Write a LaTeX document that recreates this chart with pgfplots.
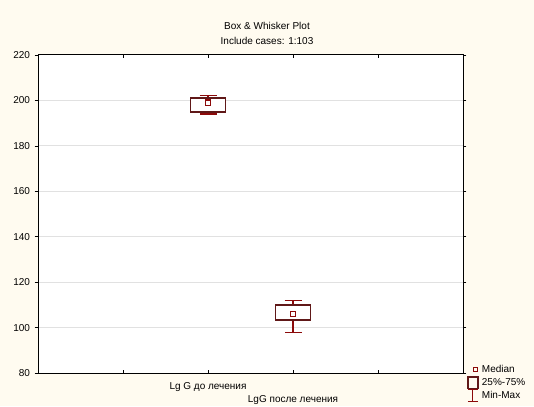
\documentclass[border=0pt]{standalone}
\usepackage{pgfplots}
\pgfplotsset{compat=1.18}
\usepackage{fontspec}
\setmainfont{Liberation Sans}
\definecolor{bg}{RGB}{255,251,240}
\definecolor{boxc}{RGB}{96,24,24}
\definecolor{whc}{RGB}{140,10,10}
\definecolor{gridc}{RGB}{225,225,225}
\newcommand{\fs}{\fontsize{7.5}{9}\selectfont}
\begin{document}
\begin{tikzpicture}
\fill[bg] (0pt,0pt) rectangle (400.5pt,304.5pt);
\path[use as bounding box] (0pt,0pt) rectangle (400.5pt,304.5pt);
\node[font=\fs, inner sep=0pt] at (200.25pt,285pt) {Box \& Whisker Plot};
\node[font=\fs, inner sep=0pt] at (200.25pt,273.75pt) {Include cases: 1:103};
\begin{axis}[
  at={(28.5pt,24.75pt)}, anchor=south west,
  scale only axis, width=318.75pt, height=238.5pt,
  xmin=-1, xmax=4, ymin=80, ymax=220,
  ytick={80,100,...,220},
  xtick={0,1,2,3},
  xticklabels={{},{Lg G до лечения},{\raisebox{-9.9pt}[\height][\depth]{LgG после лечения}},{}},
  axis background/.style={fill=white},
  ymajorgrids, grid style={gridc, line width=0.75pt},
  axis line style={black, line width=0.75pt},
  tick style={black, line width=0.5pt},
  xtick align=inside, ytick align=outside,
  major tick length=2.5pt,
  ticklabel style={font=\fs},
  xticklabel style={yshift=-3.75pt},
  /pgf/number format/assume math mode=true,
  legend style={at={(1.0094,0.0314)}, anchor=north west, draw=none, fill=none, font=\fs, inner sep=0pt, row sep=0pt, column sep=0pt, nodes={inner ysep=0pt, inner xsep=2.5pt}},
  legend cell align=left,
]
% whiskers (min-max) around the median
\addplot[forget plot, draw=none, mark=none,
  error bars/.cd, y dir=both, y explicit, error mark=|,
  error bar style={draw=whc, line width=0.9pt},
  error mark options={draw=whc, line width=0.9pt, mark size=6.375pt}]
  coordinates {(1,199) += (0,3) -= (0,5)
               (2,106) += (0,6) -= (0,8)};
% boxes (25%-75%)
\addplot[forget plot, draw=boxc, line width=1.1pt, fill=white, mark=none]
  coordinates {(0.795,195) (1.205,195) (1.205,201) (0.795,201)} -- cycle;
\addplot[forget plot, draw=boxc, line width=1.1pt, fill=white, mark=none]
  coordinates {(1.795,103.3) (2.205,103.3) (2.205,110) (1.795,110)} -- cycle;
% medians
\addplot[forget plot, only marks, mark=square*, mark size=2pt,
  mark options={draw=whc, fill=white, line width=1pt}]
  coordinates {(1,199) (2,106)};
\addlegendimage{legend image code/.code={\path[draw=none,fill=none] (0pt,-4.875pt) rectangle (7.5pt,4.875pt); \node[draw=whc, fill=none, line width=0.8pt, minimum size=3.2pt, inner sep=0pt] at (3.75pt,0pt) {};}}
\addlegendentry{Median}
\addlegendimage{legend image code/.code={\path[draw=none,fill=none] (0pt,-4.875pt) rectangle (7.5pt,4.875pt); \draw[boxc, fill=none, line width=1pt] (0pt,-4.3pt) rectangle (7.5pt,4.3pt);}}
\addlegendentry{25\%-75\%}
\addlegendimage{legend image code/.code={\path[draw=none,fill=none] (0pt,-4.875pt) rectangle (7.5pt,4.875pt); \draw[whc, line width=0.8pt] (0pt,-4.5pt) -- (7.5pt,-4.5pt) (3.75pt,-4.5pt) -- (3.75pt,4.5pt) (0pt,4.5pt) -- (7.5pt,4.5pt);}}
\addlegendentry{Min-Max}
\end{axis}
\end{tikzpicture}
\end{document}
